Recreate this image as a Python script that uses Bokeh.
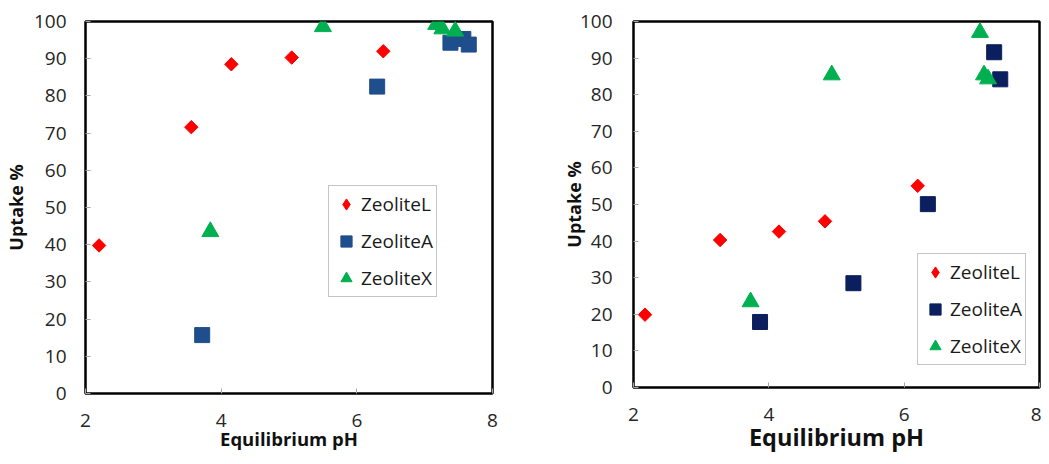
import math
from bokeh.plotting import figure
from bokeh.layouts import row
from bokeh.models import Range1d, FixedTicker, Legend, LegendItem
from bokeh.embed import file_html
from bokeh.resources import INLINE

# ---- data: left panel ----
left_L_x = [2.20, 3.56, 4.15, 5.04, 6.39]
left_L_y = [39.8, 71.6, 88.5, 90.3, 92.0]
left_A_x = [3.72, 6.30, 7.38, 7.57, 7.65]
left_A_y = [15.7, 82.5, 94.3, 95.3, 93.8]
left_X_x = [3.84, 5.50, 7.17, 7.26, 7.45]
left_X_y = [43.5, 98.6, 99.2, 98.0, 97.4]

# ---- data: right panel ----
right_L_x = [2.17, 3.28, 4.15, 4.83, 6.20]
right_L_y = [19.9, 40.3, 42.6, 45.4, 55.1]
right_A_x = [3.87, 5.25, 6.35, 7.33, 7.42]
right_A_y = [17.9, 28.5, 50.1, 91.6, 84.2]
right_X_x = [3.73, 4.93, 7.12, 7.18, 7.24]
right_X_y = [23.4, 85.4, 97.0, 85.4, 84.3]

x_ticks = [2, 4, 6, 8]
y_ticks = list(range(0, 101, 10))
series_names = ["ZeoliteL", "ZeoliteA", "ZeoliteX"]
x_title = "Equilibrium pH"
y_title = "Uptake %"

FONT = "Open Sans"
RED = "#FF0000"
GREEN = "#00B050"


def make_panel(fw, fh, bl, br, bt, bb, lx, ly, ax, ay, xx, xy, a_color,
               xt_size, xt_standoff, yt_standoff, ylab_standoff, legend_loc):
    p = figure(frame_width=fw, frame_height=fh, output_backend="svg", toolbar_location=None,
               x_range=Range1d(2, 8), y_range=Range1d(0, 100),
               min_border_left=bl, min_border_right=br, min_border_top=bt, min_border_bottom=bb)
    p.xgrid.visible = False
    p.ygrid.visible = False
    p.outline_line_color = "black"
    p.outline_line_width = 2.5
    p.background_fill_color = "white"
    p.border_fill_color = "white"

    for a_ in (p.xaxis[0], p.yaxis[0]):
        a_.axis_line_color = None
        a_.major_tick_in = 5
        a_.major_tick_out = 0
        a_.major_tick_line_color = "#A6A6A6"
        a_.major_tick_line_width = 1
        a_.minor_tick_line_color = None
        a_.major_label_text_font = FONT
        a_.major_label_text_font_size = "19px"
        a_.major_label_text_color = "#262626"
        a_.axis_label_text_font = FONT
        a_.axis_label_text_font_style = "bold"
        a_.axis_label_text_color = "#111111"
    p.xaxis[0].ticker = FixedTicker(ticks=x_ticks)
    p.yaxis[0].ticker = FixedTicker(ticks=y_ticks)
    p.xaxis[0].major_label_standoff = 20
    p.yaxis[0].major_label_standoff = ylab_standoff
    p.xaxis[0].axis_label = x_title
    p.yaxis[0].axis_label = y_title
    p.xaxis[0].axis_label_text_font_size = xt_size
    p.yaxis[0].axis_label_text_font_size = "18px"
    p.xaxis[0].axis_label_standoff = xt_standoff
    p.yaxis[0].axis_label_standoff = yt_standoff

    rL = p.scatter(lx, ly, marker="square", angle=math.pi / 4, size=9.5,
                   fill_color=RED, line_color=RED)
    rA = p.scatter(ax, ay, marker="square", size=15, fill_color=a_color, line_color=a_color)
    rX = p.scatter(xx, xy, marker="triangle", size=17, fill_color=GREEN, line_color=GREEN)
    # legend swatch for the diamond series (legend swatches are not rotated);
    # its single point lies outside the visible range
    rL_key = p.scatter([-50], [-50], marker="diamond", fill_color=RED, line_color=RED)

    legend = Legend(items=[LegendItem(label=series_names[0], renderers=[rL_key]),
                           LegendItem(label=series_names[1], renderers=[rA]),
                           LegendItem(label=series_names[2], renderers=[rX])],
                    location=legend_loc, orientation="vertical",
                    glyph_width=28, glyph_height=30, label_height=30,
                    label_standoff=1, spacing=7, padding=3, margin=0,
                    label_text_font=FONT, label_text_font_size="19px",
                    label_text_color="#1a1a1a",
                    border_line_color="#8C8C8C", border_line_width=1.5,
                    background_fill_color="white", background_fill_alpha=1.0)
    p.add_layout(legend, "center")
    return p


# fixed frame sizes so the two panels are not aligned to each other
left = make_panel(407, 372, 85, 28, 21, 63,
                  left_L_x, left_L_y, left_A_x, left_A_y, left_X_x, left_X_y,
                  "#1F4E8C", "18.5px", -4, 3, 19, (243, 96))
right = make_panel(406, 366, 113, 2, 20, 70,
                   right_L_x, right_L_y, right_A_x, right_A_y, right_X_x, right_X_y,
                   "#0B1F5E", "23.5px", -3, -9, 21, (284, 22))

layout = row(left, right)
open("out.html", "w").write(file_html(layout, INLINE))
